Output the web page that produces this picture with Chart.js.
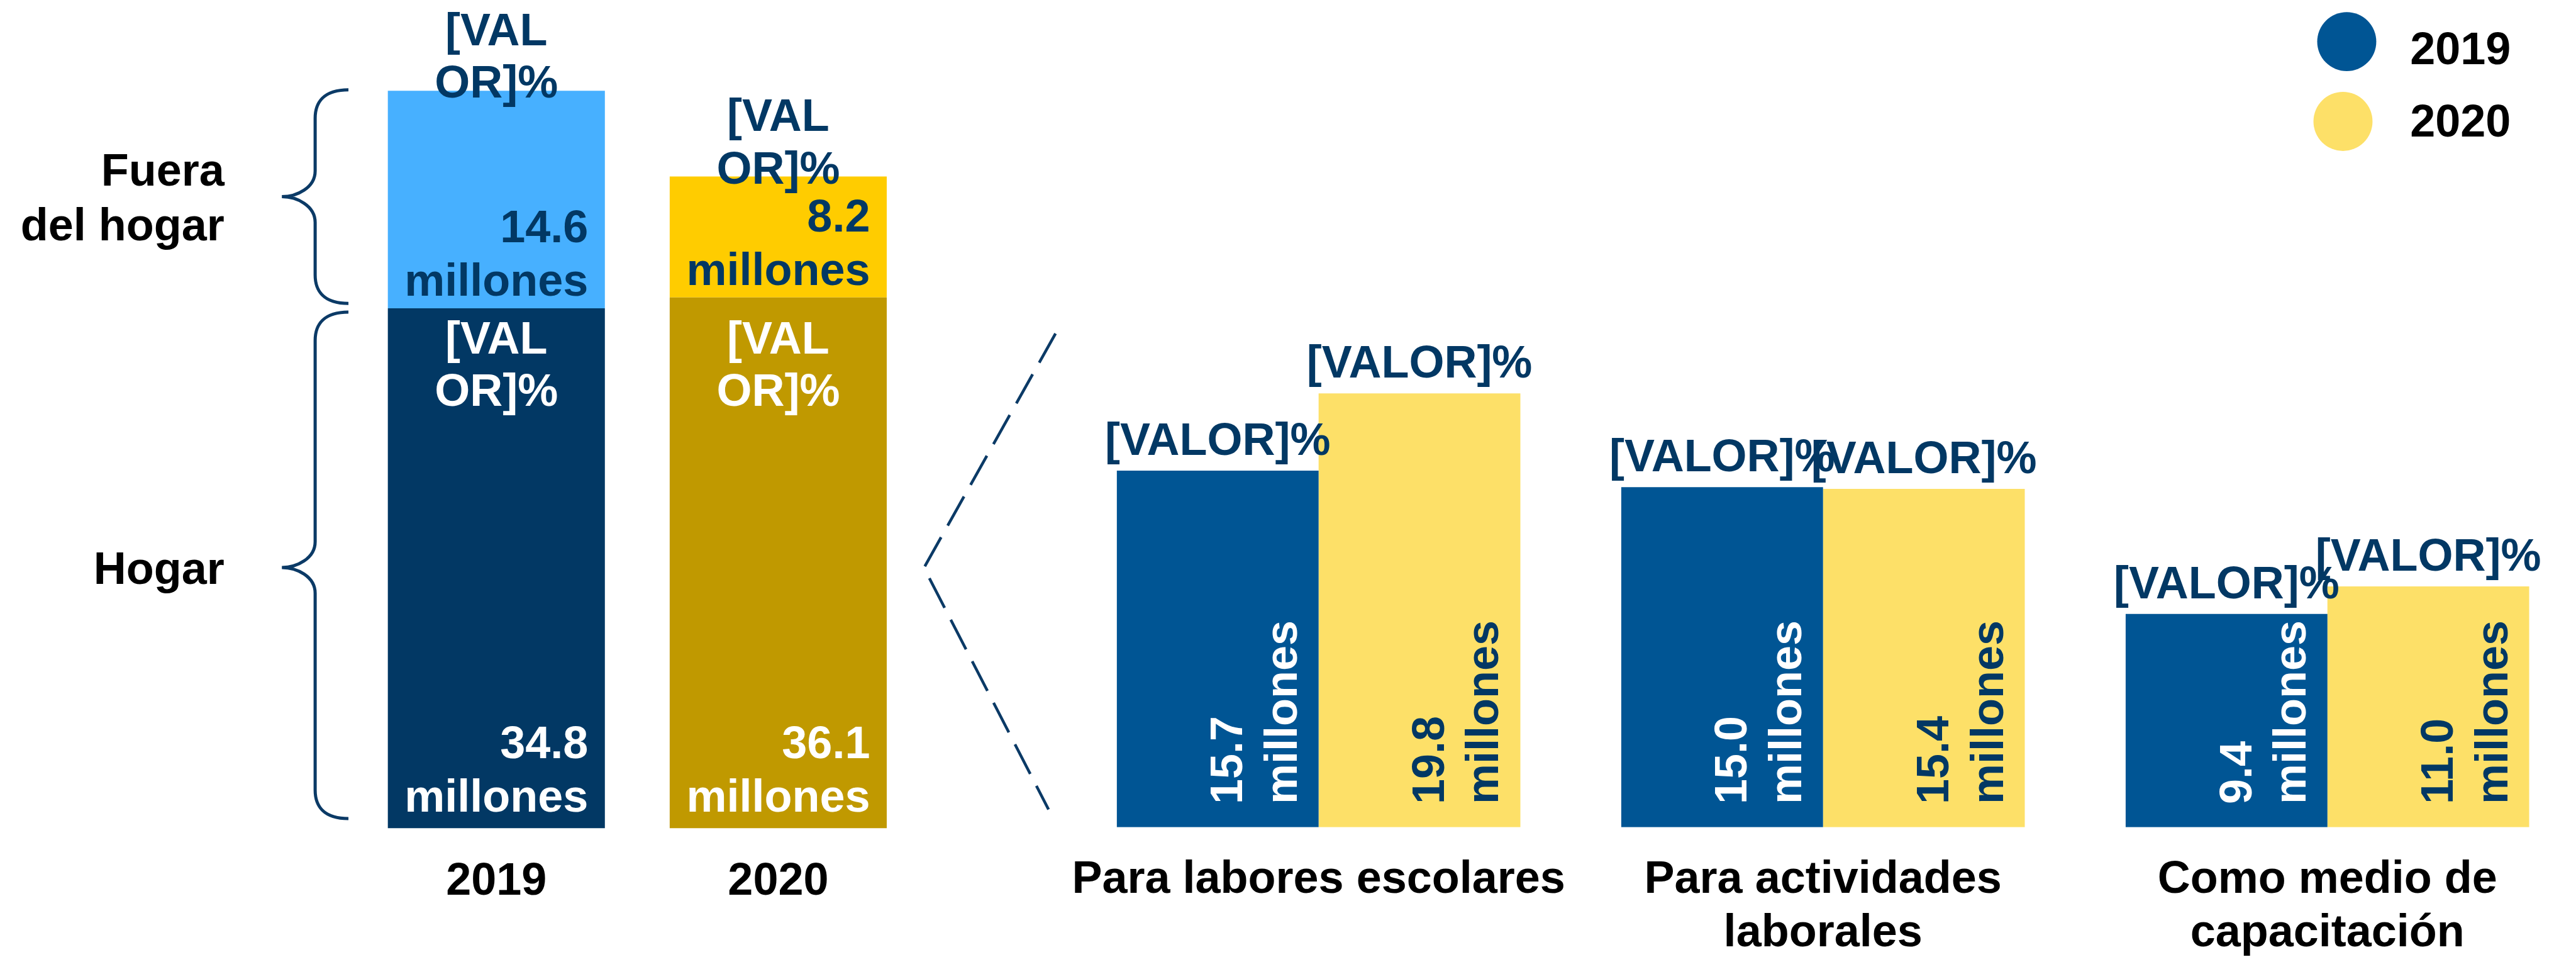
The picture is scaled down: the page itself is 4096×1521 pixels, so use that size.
<!DOCTYPE html>
<html><head><meta charset="utf-8">
<script src="https://cdn.jsdelivr.net/npm/chart.js@4.4.1/dist/chart.umd.min.js"></script>
<style>
html,body{margin:0;padding:0;width:4096px;height:1521px;overflow:hidden;background:#fff;}
#cL{position:absolute;left:0;top:0;}
#cR{position:absolute;left:1409px;top:0;}
</style></head><body>
<canvas id="cL"></canvas><canvas id="cR"></canvas>
<script>
// ---------- data ----------
const yearLabels = ['2019', '2020'];
const hogarValues = [43.0, 43.9];
const fueraValues = [18.0, 10.0];
const hogarMillions = ['34.8', '36.1'];
const fueraMillions = ['14.6', '8.2'];
const braceLabels = [['Fuera', 'del hogar'], ['Hogar']];
const usoCategories = [['Para labores escolares'], ['Para actividades', 'laborales'], ['Como medio de', 'capacitación']];
const seriesNames = ['2019', '2020'];
const series2019 = [19.4, 18.5, 11.6];
const series2020 = [23.6, 18.4, 13.1];
const millions2019 = ['15.7', '15.0', '9.4'];
const millions2020 = ['19.8', '15.4', '11.0'];
const pctLabel = '[VALOR]%';
const unitWord = 'millones';

// ---------- styles ----------
const S = 4096 / 4798;
const F = v => v * S;
const FONT = '"Liberation Sans", Arial, Helvetica, sans-serif';
const FS = 72;
const BOLD = `bold ${FS}px ${FONT}`;
const NAVY = '#023864';
const LINE = '#0b3a66';
const H = 1521;
const LS = F(100);

function rightBlock(ctx, lines, cx, lastBaseline, color) {
  ctx.fillStyle = color;
  let w = 0;
  lines.forEach(t => { w = Math.max(w, ctx.measureText(t).width); });
  const xr = cx + w / 2;
  ctx.textAlign = 'right';
  ctx.textBaseline = 'alphabetic';
  const n = lines.length;
  lines.forEach((t, i) => ctx.fillText(t, xr, lastBaseline - (n - 1 - i) * LS));
}

function brace(ctx, yTop, yBot, yMid) {
  const xEnd = F(649), xLine = F(587), xTip = F(525);
  const r1 = F(53), r2 = F(48);
  ctx.beginPath();
  ctx.moveTo(xEnd, yTop);
  ctx.bezierCurveTo(xLine + (xEnd - xLine) * 0.25, yTop, xLine, yTop + r1 * 0.45, xLine, yTop + r1);
  ctx.lineTo(xLine, yMid - r2);
  ctx.bezierCurveTo(xLine, yMid - r2 * 0.35, xTip + (xLine - xTip) * 0.45, yMid, xTip, yMid);
  ctx.bezierCurveTo(xTip + (xLine - xTip) * 0.45, yMid, xLine, yMid + r2 * 0.35, xLine, yMid + r2);
  ctx.lineTo(xLine, yBot - r1);
  ctx.bezierCurveTo(xLine, yBot - r1 * 0.45, xLine + (xEnd - xLine) * 0.25, yBot, xEnd, yBot);
  ctx.stroke();
}

function braceText(ctx, lines, yMid) {
  ctx.fillStyle = '#000';
  ctx.textAlign = 'right';
  ctx.textBaseline = 'alphabetic';
  const cap = FS * 0.716 / 2;
  const n = lines.length;
  lines.forEach((t, i) => ctx.fillText(t, F(418), yMid + cap + (i - (n - 1) / 2) * F(102)));
}

// ---------- left chart ----------
const leftPlugin = {
  id: 'leftLabels',
  afterDatasetsDraw(chart) {
    const ctx = chart.ctx;
    const m0 = chart.getDatasetMeta(0), m1 = chart.getDatasetMeta(1);
    ctx.save();
    ctx.font = BOLD;
    const p1 = pctLabel.slice(0, 4), p2 = pctLabel.slice(4);
    m1.data.forEach((el, i) => {
      ctx.fillStyle = NAVY; ctx.textAlign = 'center'; ctx.textBaseline = 'alphabetic';
      const b2 = el.y + F(13);
      ctx.fillText(p1, el.x, b2 - F(98));
      ctx.fillText(p2, el.x, b2);
      rightBlock(ctx, [fueraMillions[i], unitWord], el.x, el.base - F(23), NAVY);
    });
    const topY = Math.max(...m0.data.map(e => e.y));
    m0.data.forEach((el, i) => {
      ctx.fillStyle = '#fff'; ctx.textAlign = 'center'; ctx.textBaseline = 'alphabetic';
      const b1 = topY + F(84);
      ctx.fillText(p1, el.x, b1);
      ctx.fillText(p2, el.x, b1 + F(98));
      rightBlock(ctx, [hogarMillions[i], unitWord], el.x, el.base - F(31), '#fff');
    });
    ctx.strokeStyle = LINE; ctx.lineWidth = 5;
    const f0 = m1.data[0], h0 = m0.data[0];
    const fTop = f0.y - F(1.5), fBot = f0.base - F(9);
    const fMid = (fTop + fBot) / 2;
    brace(ctx, fTop, fBot, fMid);
    const hTop = h0.y + F(7), hBot = h0.base - F(18);
    const hMid = (hTop + hBot) / 2 + F(4);
    brace(ctx, hTop, hBot, hMid);
    braceText(ctx, braceLabels[0], fMid);
    braceText(ctx, braceLabels[1], hMid);
    ctx.restore();
  }
};

const WL = 1468;
const cL = document.getElementById('cL');
cL.width = WL; cL.height = H;
new Chart(cL, {
  type: 'bar',
  data: {
    labels: yearLabels,
    datasets: [
      { label: 'Hogar', data: hogarValues, backgroundColor: ['#023864', '#c09900'] },
      { label: 'Fuera del hogar', data: fueraValues, backgroundColor: ['#47b0ff', '#ffcc00'] }
    ]
  },
  options: {
    responsive: false, animation: false, devicePixelRatio: 1,
    layout: { padding: { left: F(662), right: WL - F(1712), top: 0, bottom: 0 } },
    datasets: { bar: { barPercentage: 0.77, categoryPercentage: 1, borderWidth: 0 } },
    plugins: { legend: { display: false }, tooltip: { enabled: false } },
    scales: {
      x: {
        stacked: true,
        grid: { display: false, drawTicks: false },
        border: { display: false },
        ticks: { color: '#000', font: { family: FONT, size: FS, weight: 'bold', lineHeight: 1.18 }, padding: 43 },
        afterFit: s => { s.height = H - F(1542); }
      },
      y: { stacked: true, display: false, min: 0, max: 68.5 }
    }
  },
  plugins: [leftPlugin]
});

// ---------- right chart ----------
const OX = 1409;
const WR = 2700;
const loc = fx => F(fx) - OX;
const inColors = ['#fff', NAVY];
const millions = [millions2019, millions2020];

const rightPlugin = {
  id: 'rightLabels',
  afterDatasetsDraw(chart) {
    const ctx = chart.ctx;
    ctx.save();
    ctx.strokeStyle = LINE; ctx.lineWidth = 4.5;
    ctx.setLineDash([F(62), F(25)]);
    ctx.beginPath();
    ctx.moveTo(loc(1966), F(621));
    ctx.lineTo(loc(1721), F(1057));
    ctx.lineTo(loc(1953), F(1507));
    ctx.stroke();
    ctx.setLineDash([]);
    ctx.font = BOLD;
    chart.data.datasets.forEach((ds, d) => {
      const meta = chart.getDatasetMeta(d);
      meta.data.forEach((el, i) => {
        ctx.fillStyle = NAVY; ctx.textAlign = 'center'; ctx.textBaseline = 'alphabetic';
        ctx.fillText(pctLabel, el.x, el.y - F(29));
        ctx.save();
        ctx.translate(el.x + el.width / 2 - F(41), el.base - F(43));
        ctx.rotate(-Math.PI / 2);
        ctx.fillStyle = inColors[d];
        ctx.textAlign = 'left';
        ctx.fillText(millions[d][i], 0, -F(101));
        ctx.fillText(unitWord, 0, 0);
        ctx.restore();
      });
    });
    const legY = [[F(77.5), F(119)], [F(226), F(254)]];
    const legX = [loc(4371), loc(4364)];
    chart.data.datasets.forEach((ds, d) => {
      ctx.fillStyle = ds.backgroundColor;
      ctx.beginPath();
      ctx.arc(legX[d], legY[d][0], F(55), 0, Math.PI * 2);
      ctx.fill();
      ctx.fillStyle = '#000'; ctx.textAlign = 'left'; ctx.textBaseline = 'alphabetic';
      ctx.fillText(ds.label, loc(4489), legY[d][1]);
    });
    ctx.restore();
  }
};

const cR = document.getElementById('cR');
cR.width = WR; cR.height = H;
new Chart(cR, {
  type: 'bar',
  data: {
    labels: usoCategories,
    datasets: [
      { label: seriesNames[0], data: series2019, backgroundColor: '#005594' },
      { label: seriesNames[1], data: series2020, backgroundColor: '#fde068' }
    ]
  },
  options: {
    responsive: false, animation: false, devicePixelRatio: 1,
    layout: { padding: { left: loc(1986.25), right: WR - loc(4804.75), top: 0, bottom: 0 } },
    datasets: { bar: { barPercentage: 1, categoryPercentage: 0.8, borderWidth: 0 } },
    plugins: { legend: { display: false }, tooltip: { enabled: false } },
    scales: {
      x: {
        grid: { display: false, drawTicks: false },
        border: { display: false },
        ticks: { color: '#000', font: { family: FONT, size: FS, weight: 'bold', lineHeight: 1.18 }, padding: 42, maxRotation: 0, autoSkip: false },
        afterFit: s => { s.height = H - F(1540); }
      },
      y: { display: false, min: 0, max: 45 }
    }
  },
  plugins: [rightPlugin]
});
</script>
</body></html>
